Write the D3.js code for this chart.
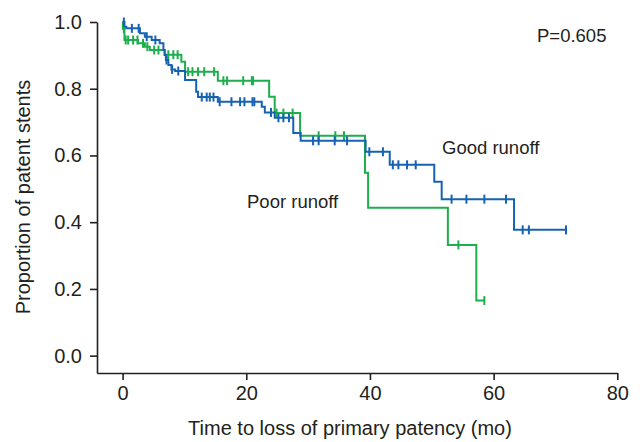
<!DOCTYPE html>
<html><head><meta charset="utf-8">
<script src="https://cdn.jsdelivr.net/npm/d3@7"></script>
<style>body{margin:0;background:#fff}svg{display:block}text{font-family:"Liberation Sans",Arial,sans-serif;fill:#231f20}</style>
</head><body><svg id="c" width="642" height="442"></svg>
<script>
// Kaplan-Meier step data (time in months, proportion patent)
const goodTimes = [0, 0.3, 0.6, 2.8, 3.6, 4.7, 6.0, 6.6, 6.8, 7.0, 7.4, 7.9, 8.5, 10.1, 11.9, 12.2, 15.4, 22.5, 23.0, 24.6, 27.6, 28.8, 39.3, 43.2, 50.4, 51.6, 63.3, 71.7];
const goodSurv  = [1.0, 0.986, 0.981, 0.966, 0.956, 0.946, 0.936, 0.916, 0.901, 0.886, 0.871, 0.858, 0.853, 0.826, 0.791, 0.775, 0.761, 0.746, 0.729, 0.713, 0.667, 0.644, 0.611, 0.572, 0.521, 0.469, 0.377, 0.377];
const goodCensor = [0.2, 1.5, 2.6, 3.9, 5.3, 7.1, 8.0, 9.0, 12.8, 13.6, 14.1, 14.7, 15.7, 17.6, 19.0, 19.7, 21.0, 21.3, 24.0, 25.2, 26.0, 26.9, 30.8, 31.7, 34.3, 36.3, 39.9, 42.1, 43.7, 44.6, 46.0, 47.4, 53.2, 55.6, 58.5, 62.0, 64.7, 65.7, 71.7];

const poorTimes = [0, 0.05, 0.3, 2.5, 3.6, 4.4, 6.8, 9.5, 10.1, 15.4, 23.7, 24.6, 28.7, 39.2, 39.7, 52.6, 57.2, 58.5];
const poorSurv  = [1.0, 0.98, 0.946, 0.936, 0.926, 0.916, 0.902, 0.881, 0.851, 0.824, 0.776, 0.727, 0.659, 0.548, 0.443, 0.332, 0.165, 0.165];
const poorCensor = [0.2, 0.5, 0.9, 1.7, 2.4, 3.3, 4.0, 5.1, 5.8, 7.4, 8.2, 8.9, 10.6, 11.3, 12.2, 13.2, 14.8, 16.3, 16.9, 19.5, 20.9, 21.1, 24.9, 26.0, 27.5, 31.7, 34.4, 35.8, 54.3, 58.5];

const xTicks = [0, 20, 40, 60, 80];
const yTicks = [0.0, 0.2, 0.4, 0.6, 0.8, 1.0];
const seriesNames = ["Good runoff", "Poor runoff"];
const pLabel = "P=0.605";
const xTitle = "Time to loss of primary patency (mo)";
const yTitle = "Proportion of patent stents";

const svg = d3.select("#c");
const x = d3.scaleLinear().domain([-4.14, 80]).range([97, 617.3]);
const y = d3.scaleLinear().domain([-0.052, 1]).range([373, 22]);
const axisColor = "#231f20";
const fsTick = 20, fsTitle = 20, fsNote = 18.5;

const xa = svg.append("g").attr("transform", "translate(0,373)")
  .call(d3.axisBottom(x).tickValues(xTicks).tickFormat(d3.format("d")).tickSizeOuter(0).tickSizeInner(7).tickPadding(6));
const ya = svg.append("g").attr("transform", "translate(97,0)")
  .call(d3.axisLeft(y).tickValues(yTicks).tickFormat(d3.format(".1f")).tickSizeOuter(0).tickSizeInner(7).tickPadding(8));
[xa, ya].forEach(a => {
  a.select(".domain").attr("stroke", axisColor).attr("stroke-width", 1.6);
  a.selectAll(".tick line").attr("stroke", axisColor).attr("stroke-width", 1.6);
  a.selectAll(".tick text").attr("font-size", fsTick).attr("font-family", "Liberation Sans, Arial, sans-serif").attr("fill", "#231f20");
});

function survAt(times, surv, t) {
  let s = surv[0];
  for (let i = 0; i < times.length; i++) { if (times[i] <= t) s = surv[i]; }
  return s;
}
const line = d3.line().x(d => x(d[0])).y(d => y(d[1])).curve(d3.curveStepAfter);
function drawSeries(times, surv, censor, color) {
  const pts = times.map((t, i) => [t, surv[i]]);
  svg.append("path").attr("d", line(pts)).attr("fill", "none").attr("stroke", color).attr("stroke-width", 2);
  svg.append("g").selectAll("line").data(censor).join("line")
    .attr("x1", d => x(d)).attr("x2", d => x(d))
    .attr("y1", d => y(survAt(times, surv, d)) - 4.5).attr("y2", d => y(survAt(times, surv, d)) + 4.5)
    .attr("stroke", color).attr("stroke-width", 2);
}
drawSeries(poorTimes, poorSurv, poorCensor, "#1fae4e");
drawSeries(goodTimes, goodSurv, goodCensor, "#1763b3");

svg.append("text").attr("x", 537).attr("y", 42).attr("font-size", fsNote).text(pLabel);
svg.append("text").attr("x", 442).attr("y", 154).attr("font-size", fsNote).text(seriesNames[0]);
svg.append("text").attr("x", 247).attr("y", 208).attr("font-size", fsNote).text(seriesNames[1]);
svg.append("text").attr("x", 350).attr("y", 435).attr("text-anchor", "middle").attr("font-size", fsTitle).text(xTitle);
svg.append("text").attr("transform", "translate(30,197) rotate(-90)").attr("text-anchor", "middle").attr("font-size", fsTitle).text(yTitle);
</script></body></html>
